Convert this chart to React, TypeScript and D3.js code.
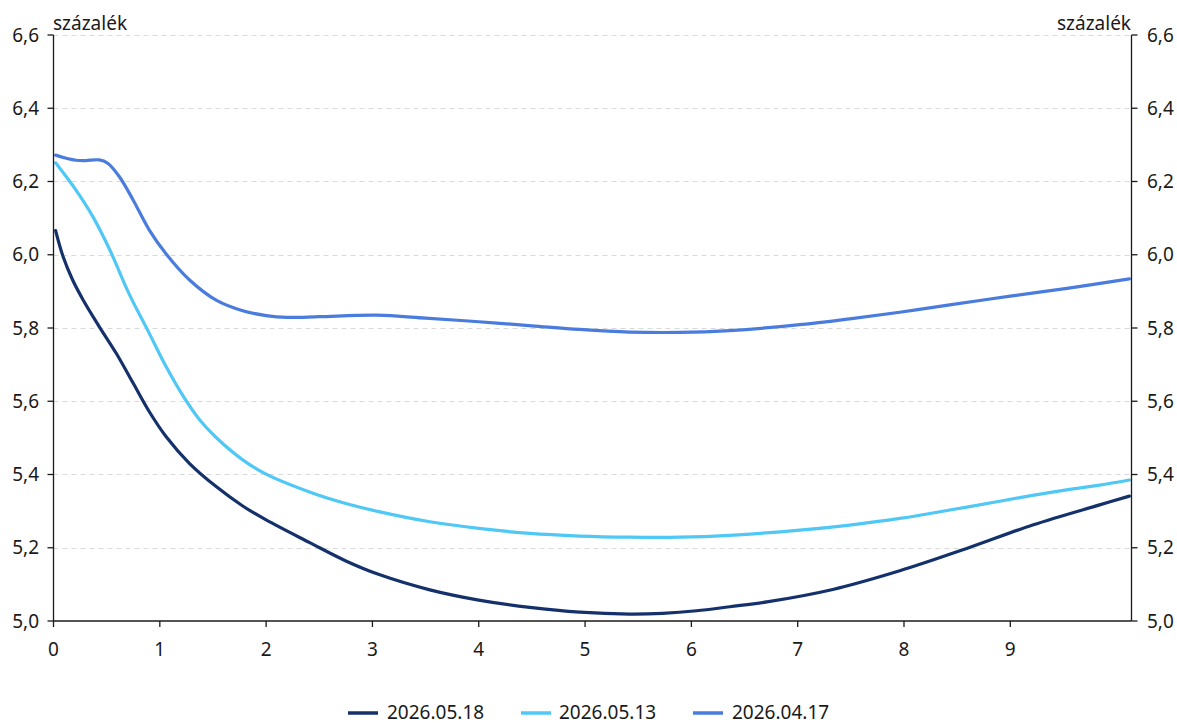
import React from "react";
import * as d3 from "d3";

const W = 1177;
const H = 724;

const seriesNames = ["2026.05.18", "2026.05.13", "2026.04.17"];
const seriesColors = ["#15316b", "#4fc8f6", "#4a7cdd"];

// maturity in years
const darkT = [0.02, 0.09, 0.18, 0.28, 0.43, 0.59, 0.75, 0.9, 1.06, 1.28, 1.53, 1.78, 2.0, 2.41, 2.75, 3.07, 3.54, 4.0, 4.48, 4.95, 5.42, 5.73, 6.05, 6.36, 6.71, 7.33, 7.96, 8.59, 9.21, 9.84, 10.12];
const darkV = [6.066, 5.995, 5.931, 5.876, 5.804, 5.731, 5.649, 5.572, 5.503, 5.43, 5.367, 5.314, 5.276, 5.214, 5.164, 5.126, 5.085, 5.057, 5.037, 5.024, 5.019, 5.021, 5.028, 5.039, 5.052, 5.086, 5.137, 5.198, 5.262, 5.317, 5.341];

const lightT = [0.02, 0.21, 0.37, 0.53, 0.71, 0.9, 1.06, 1.22, 1.37, 1.53, 1.78, 2.0, 2.44, 2.75, 3.07, 3.54, 4.0, 4.48, 4.95, 5.42, 5.89, 6.36, 7.02, 7.49, 7.96, 8.43, 8.9, 9.21, 9.53, 9.84, 10.12];
const lightV = [6.251, 6.177, 6.104, 6.013, 5.894, 5.786, 5.694, 5.614, 5.551, 5.501, 5.44, 5.401, 5.349, 5.321, 5.298, 5.271, 5.253, 5.239, 5.232, 5.229, 5.229, 5.234, 5.248, 5.262, 5.28, 5.303, 5.327, 5.343, 5.358, 5.371, 5.385];

const mediumT = [0.02, 0.1, 0.21, 0.3, 0.43, 0.51, 0.62, 0.75, 0.9, 1.06, 1.28, 1.53, 1.78, 2.0, 2.2, 2.5, 3.04, 3.5, 4.0, 4.5, 4.95, 5.42, 5.89, 6.36, 7.02, 7.49, 7.96, 8.43, 9.0, 9.55, 10.12];
const mediumV = [6.272, 6.265, 6.258, 6.257, 6.259, 6.25, 6.213, 6.149, 6.068, 6.002, 5.931, 5.876, 5.847, 5.834, 5.829, 5.831, 5.835, 5.827, 5.817, 5.806, 5.796, 5.789, 5.788, 5.793, 5.809, 5.825, 5.843, 5.863, 5.887, 5.909, 5.934];

const yTicks = [5.0, 5.2, 5.4, 5.6, 5.8, 6.0, 6.2, 6.4, 6.6];
const xTicks = [0, 1, 2, 3, 4, 5, 6, 7, 8, 9];
const unitLabel = "százalék";

const FONT = "'Noto Sans', sans-serif";

export default function App() {
  const left = 53.5;
  const right = 1131.5;
  const top = 35;
  const bottom = 621;
  const x = d3.scaleLinear().domain([0, 10.14]).range([left, right]);
  const y = d3.scaleLinear().domain([5.0, 6.6]).range([bottom, top]);

  const series = [
    { t: darkT, v: darkV },
    { t: lightT, v: lightV },
    { t: mediumT, v: mediumV },
  ];

  const lineGen = d3
    .line<[number, number]>()
    .x((d) => x(d[0]))
    .y((d) => y(d[1]))
    .curve(d3.curveCatmullRom.alpha(0.5));

  const fmt = (v: number) => v.toFixed(1).replace(".", ",");

  const legendItems = [
    { lx: 348, tx: 387 },
    { lx: 521, tx: 559 },
    { lx: 693, tx: 732 },
  ];

  return (
    <svg
      width={W}
      height={H}
      style={{ position: "absolute", left: 0, top: 0, background: "#fff" }}
      fontFamily={FONT}
    >
      <rect x={0} y={0} width={W} height={H} fill="#fff" />
      {yTicks.map((t) =>
        t === 5.0 ? null : (
          <line
            key={"g" + t}
            x1={left}
            x2={right}
            y1={Math.round(y(t)) + 0.5}
            y2={Math.round(y(t)) + 0.5}
            stroke="#d9d9d9"
            strokeWidth={1}
            strokeDasharray="5,4"
          />
        )
      )}
      {series.map((s, i) => (
        <path
          key={"s" + i}
          d={lineGen(s.t.map((t, j) => [t, s.v[j]] as [number, number])) || ""}
          fill="none"
          stroke={seriesColors[i]}
          strokeWidth={3.2}
          strokeLinejoin="round"
          strokeLinecap="round"
        />
      ))}
      <line x1={left} x2={left} y1={top} y2={bottom} stroke="#1a1a1a" strokeWidth={1.3} />
      <line x1={right} x2={right} y1={top} y2={bottom} stroke="#1a1a1a" strokeWidth={1.3} />
      <line x1={left} x2={right} y1={bottom} y2={bottom} stroke="#1a1a1a" strokeWidth={1.3} />
      {yTicks.map((t) => (
        <g key={"yt" + t}>
          <line x1={left - 6} x2={left} y1={y(t)} y2={y(t)} stroke="#1a1a1a" strokeWidth={1.3} />
          <line x1={right} x2={right + 6} y1={y(t)} y2={y(t)} stroke="#1a1a1a" strokeWidth={1.3} />
          <text x={39} y={y(t) + 6.5} textAnchor="end" fontSize={19} fill="#1a1a1a">
            {fmt(t)}
          </text>
          <text x={1147} y={y(t) + 6.5} textAnchor="start" fontSize={19} fill="#1a1a1a">
            {fmt(t)}
          </text>
        </g>
      ))}
      {xTicks.map((t) => (
        <g key={"xt" + t}>
          <line x1={x(t)} x2={x(t)} y1={bottom} y2={bottom + 6} stroke="#1a1a1a" strokeWidth={1.3} />
          <text x={x(t)} y={656} textAnchor="middle" fontSize={19} fill="#1a1a1a">
            {t}
          </text>
        </g>
      ))}
      <text x={53} y={30} fontSize={19} fill="#1a1a1a">
        {unitLabel}
      </text>
      <text x={1131} y={30} textAnchor="end" fontSize={19} fill="#1a1a1a">
        {unitLabel}
      </text>
      {seriesNames.map((n, i) => (
        <g key={"l" + i}>
          <line
            x1={legendItems[i].lx}
            x2={legendItems[i].lx + 30}
            y1={713}
            y2={713}
            stroke={seriesColors[i]}
            strokeWidth={3.5}
          />
          <text x={legendItems[i].tx} y={719} fontSize={19} fill="#1a1a1a">
            {n}
          </text>
        </g>
      ))}
    </svg>
  );
}
